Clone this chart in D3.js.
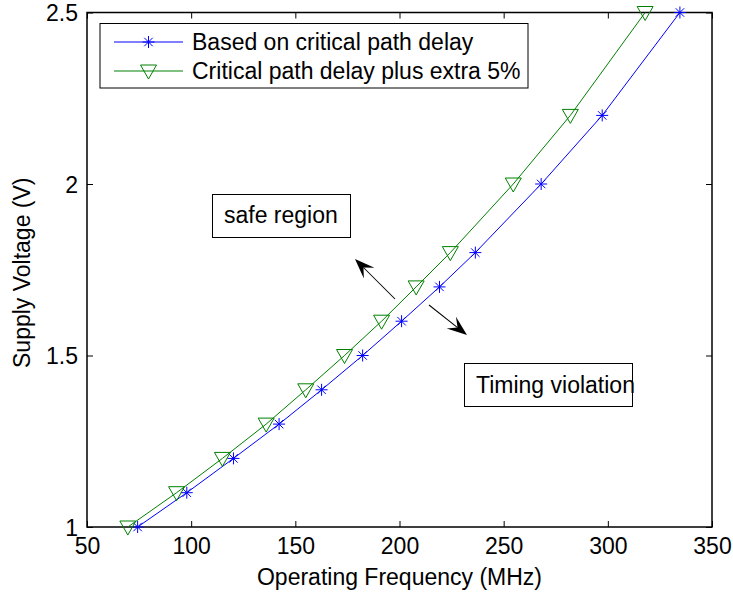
<!DOCTYPE html>
<html>
<head>
<meta charset="utf-8">
<script src="https://cdn.jsdelivr.net/npm/d3@7"></script>
<style>
  html, body { margin: 0; padding: 0; background: #fff; }
  svg { display: block; font-family: "Liberation Sans", Arial, Helvetica, sans-serif; }
</style>
</head>
<body>
<svg id="chart" width="733" height="592"></svg>
<script>
// Supply voltage levels (V)
const voltages = [1.0, 1.1, 1.2, 1.3, 1.4, 1.5, 1.6, 1.7, 1.8, 2.0, 2.2, 2.5];
// Max operating frequency (MHz) from the critical path delay
const freqCritical = [74.3, 97.9, 120.3, 142.2, 162.6, 182.3, 201.0, 219.2, 236.4, 268.0, 297.3, 334.6];
// Max operating frequency (MHz) with an extra 5% margin on the delay
const freqMargin = [69.6, 93.0, 115.0, 136.0, 155.0, 173.6, 191.4, 208.0, 224.4, 254.6, 282.0, 317.9];

const xTicks = [50, 100, 150, 200, 250, 300, 350];
const yTicks = [1, 1.5, 2, 2.5];
const seriesNames = ["Based on critical path delay", "Critical path delay plus extra 5%"];

const svg = d3.select("#chart");
const plotL = 87, plotR = 712, plotT = 12.5, plotB = 527;

const x = d3.scaleLinear().domain([50, 350]).range([plotL, plotR]);
const y = d3.scaleLinear().domain([1, 2.5]).range([plotB, plotT]);

const fontSize = 23;
const tickLen = 6;

// axes with inward ticks on all four sides
const axisG = svg.append("g");
const xb = axisG.append("g").attr("transform", `translate(0,${plotB})`)
  .call(d3.axisBottom(x).tickValues(xTicks).tickSizeInner(-tickLen).tickSizeOuter(0).tickFormat(d3.format("d")));
const xt = axisG.append("g").attr("transform", `translate(0,${plotT})`)
  .call(d3.axisTop(x).tickValues(xTicks).tickSizeInner(-tickLen).tickSizeOuter(0).tickFormat(""));
const yl = axisG.append("g").attr("transform", `translate(${plotL},0)`)
  .call(d3.axisLeft(y).tickValues(yTicks).tickSizeInner(-tickLen).tickSizeOuter(0).tickFormat(d => String(d)));
const yr = axisG.append("g").attr("transform", `translate(${plotR},0)`)
  .call(d3.axisRight(y).tickValues(yTicks).tickSizeInner(-tickLen).tickSizeOuter(0).tickFormat(""));

axisG.selectAll(".domain").remove();
axisG.selectAll(".tick line").attr("stroke", "#000").attr("stroke-width", 1);
axisG.selectAll(".tick text").attr("fill", "#000").attr("font-size", fontSize).attr("font-family", null);
xb.selectAll(".tick text").attr("dy", null).attr("y", 27);
yl.selectAll(".tick text").attr("dy", null).attr("x", -9).attr("y", 8);

// plot frame
svg.append("rect")
  .attr("x", plotL).attr("y", plotT)
  .attr("width", plotR - plotL).attr("height", plotB - plotT)
  .attr("fill", "none").attr("stroke", "#000").attr("stroke-width", 1.5);

// axis titles
svg.append("text")
  .attr("x", (plotL + plotR) / 2).attr("y", 585)
  .attr("text-anchor", "middle").attr("font-size", fontSize)
  .text("Operating Frequency (MHz)");
svg.append("text")
  .attr("transform", `translate(30,${(plotT + plotB) / 2 + 3}) rotate(-90)`)
  .attr("text-anchor", "middle").attr("font-size", fontSize)
  .text("Supply Voltage (V)");

// marker shapes
function starPath(r) {
  const d = r * Math.SQRT1_2;
  return `M${-r},0L${r},0M0,${-r}L0,${r}M${-d},${-d}L${d},${d}M${-d},${d}L${d},${-d}`;
}
function triPath() {
  return "M-8,-6L8,-6L0,8Z";
}

const series = [
  { name: seriesNames[0], freq: freqCritical, color: "#0000ff", marker: "star" },
  { name: seriesNames[1], freq: freqMargin, color: "#008000", marker: "tri" }
];

const line = d3.line().x(d => x(d[0])).y(d => y(d[1]));

series.forEach(s => {
  const pts = s.freq.map((f, i) => [f, voltages[i]]);
  svg.append("path").datum(pts)
    .attr("d", line).attr("fill", "none")
    .attr("stroke", s.color).attr("stroke-width", 1);
  svg.append("g").selectAll("path").data(pts).join("path")
    .attr("transform", d => `translate(${x(d[0])},${y(d[1])})`)
    .attr("d", s.marker === "star" ? starPath(6) : triPath())
    .attr("fill", "none").attr("stroke", s.color).attr("stroke-width", 1);
});

// legend
const lg = svg.append("g");
lg.append("rect").attr("x", 100).attr("y", 23.5).attr("width", 428).attr("height", 64.5)
  .attr("fill", "#fff").attr("stroke", "#000").attr("stroke-width", 1);
series.forEach((s, i) => {
  const cy = 42 + i * 29;
  lg.append("line").attr("x1", 114).attr("x2", 183).attr("y1", cy).attr("y2", cy)
    .attr("stroke", s.color).attr("stroke-width", 1);
  lg.append("path").attr("transform", `translate(148.5,${cy})`)
    .attr("d", s.marker === "star" ? starPath(6) : triPath())
    .attr("fill", "none").attr("stroke", s.color).attr("stroke-width", 1);
  lg.append("text").attr("x", 192).attr("y", cy + 7.5).attr("font-size", fontSize).text(s.name);
});

// region annotations
function textBox(bx, by, bw, bh, tx, ty, label) {
  svg.append("rect").attr("x", bx).attr("y", by).attr("width", bw).attr("height", bh)
    .attr("fill", "#fff").attr("stroke", "#000").attr("stroke-width", 1);
  svg.append("text").attr("x", tx).attr("y", ty).attr("font-size", fontSize).text(label);
}
textBox(212.5, 194.5, 138, 43, 224, 223, "safe region");
textBox(464.5, 363.5, 168, 43, 476, 392.5, "Timing violation");

// arrows with swept-back heads
function arrow(x1, y1, x2, y2) {
  const ang = Math.atan2(y2 - y1, x2 - x1);
  const L = 20, W = 7.5, back = 8;
  const g = svg.append("g").attr("transform", `translate(${x2},${y2}) rotate(${ang * 180 / Math.PI})`);
  const len = Math.hypot(x2 - x1, y2 - y1);
  g.append("line").attr("x1", -len).attr("y1", 0).attr("x2", -L + back).attr("y2", 0)
    .attr("stroke", "#000").attr("stroke-width", 1);
  g.append("path")
    .attr("d", `M0,0L${-L},${-W}L${-L + back},0L${-L},${W}Z`)
    .attr("fill", "#000");
}
arrow(395, 299, 355, 259);
arrow(429, 305, 467, 335);
</script>
</body>
</html>
